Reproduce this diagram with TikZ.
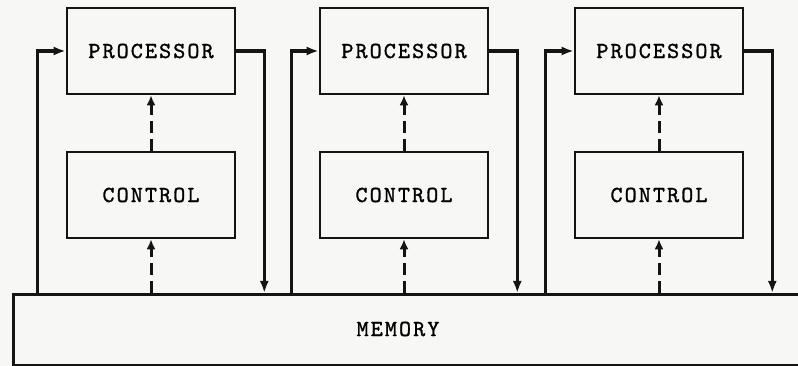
\documentclass[tikz,border=0pt]{standalone}
\usepackage{fontspec}
\usepackage{tikz}
\usetikzlibrary{arrows.meta,calc,positioning}
\definecolor{paper}{HTML}{F7F7F5}
\definecolor{ink}{HTML}{141414}
\newfontfamily\boxfont{lmmono10-regular.otf}[LetterSpace=9,FakeBold=1.2]

\begin{document}
\begin{tikzpicture}[x=1pt,y=1pt,>={Latex[length=12pt,width=9pt]},
    unitbox/.style={draw=ink,line width=2.6pt,minimum width=168,minimum height=86,inner sep=0pt,
      font=\boxfont\fontsize{23}{26}\selectfont},
    membox/.style={draw=ink,line width=2.6pt,minimum width=800,minimum height=71,inner sep=0pt},
    bus/.style={draw=ink,line width=3.2pt},
    ctrl/.style={draw=ink,line width=3pt,dash pattern=on 12pt off 6pt,
      -{Latex[length=10pt,width=9pt]}}]
  \fill[paper] (0,0) rectangle (798,366);
  \clip (0,0) rectangle (798,366);
  \useasboundingbox (0,0) rectangle (798,366);

  % shared memory along the bottom
  \node[membox,anchor=north west] (memory) at (12,73) {};
  \node[font=\boxfont\fontsize{23}{26}\selectfont] (memtext) at (398,37) {MEMORY};

  % three processor / control pairs
  \node[unitbox] (proc1) at (151,315) {PROCESSOR};
  \node[unitbox] (ctrl1) at (151,171) {CONTROL};
  \node[unitbox] (proc2) at (404,315) {PROCESSOR};
  \node[unitbox] (ctrl2) at (404,171) {CONTROL};
  \node[unitbox] (proc3) at (659,315) {PROCESSOR};
  \node[unitbox] (ctrl3) at (659,171) {CONTROL};

  % data paths to and from memory
  \draw[bus,->] ($(memory.north -| proc1.west)+(-28,0)$) |- (proc1.west);
  \draw[bus,->] (proc1.east) -| ($(memory.north -| proc1.east)+(28,0)$);
  \draw[bus,->] ($(memory.north -| proc2.west)+(-27,0)$) |- (proc2.west);
  \draw[bus,->] (proc2.east) -| ($(memory.north -| proc2.east)+(28,0)$);
  \draw[bus,->] ($(memory.north -| proc3.west)+(-28,0)$) |- (proc3.west);
  \draw[bus,->] (proc3.east) -| ($(memory.north -| proc3.east)+(28,0)$);

  % control signals
  \draw[ctrl] (memory.north -| ctrl1.south) -- (ctrl1.south);
  \draw[ctrl] (ctrl1.north) -- (proc1.south);
  \draw[ctrl] (memory.north -| ctrl2.south) -- (ctrl2.south);
  \draw[ctrl] (ctrl2.north) -- (proc2.south);
  \draw[ctrl] (memory.north -| ctrl3.south) -- (ctrl3.south);
  \draw[ctrl] (ctrl3.north) -- (proc3.south);
\end{tikzpicture}
\end{document}
